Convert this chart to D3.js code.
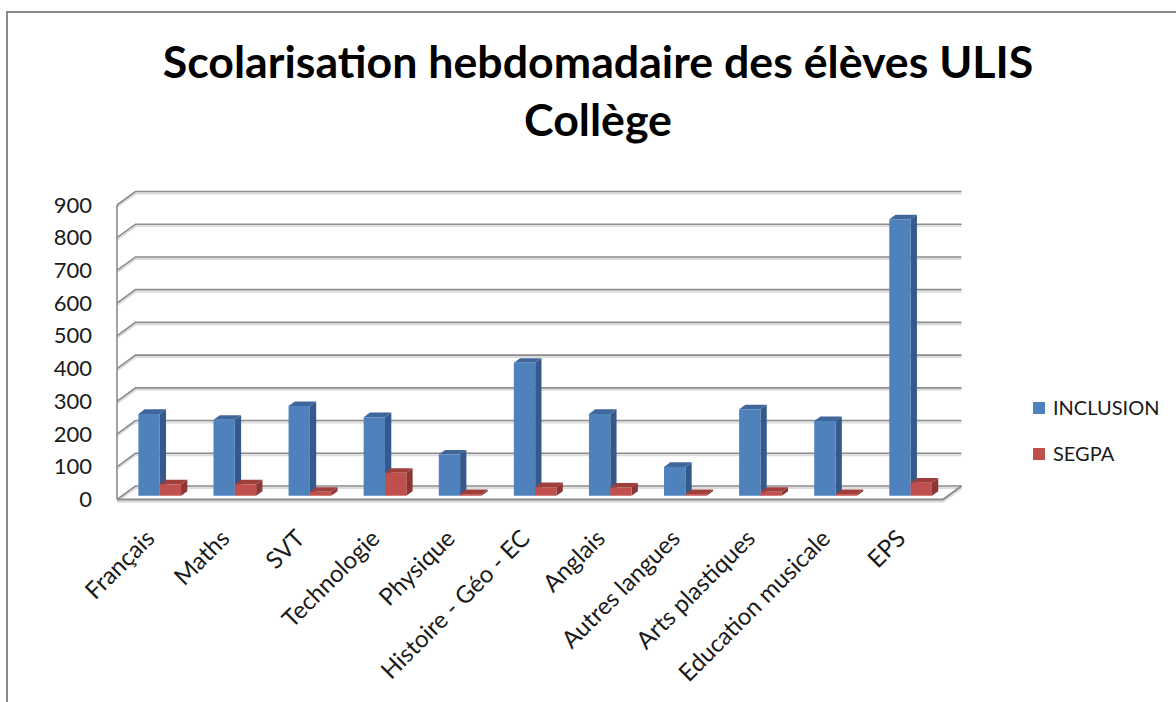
<!DOCTYPE html>
<html>
<head>
<meta charset="utf-8">
<script src="https://cdn.jsdelivr.net/npm/d3@7"></script>
<style>
  body { margin: 0; background: #fff; }
  svg { display: block; }
</style>
</head>
<body>
<div id="chart"></div>
<script>
// data
var categories = ["Français", "Maths", "SVT", "Technologie", "Physique", "Histoire - Géo - EC",
                  "Anglais", "Autres langues", "Arts plastiques", "Education musicale", "EPS"];
var series = ["INCLUSION", "SEGPA"];
var inclusion = [250, 232, 274, 240, 126, 406, 250, 88, 264, 228, 845];
var segpa = [35, 35, 12, 70, 5, 26, 25, 5, 12, 5, 40];
var yTicks = [0, 100, 200, 300, 400, 500, 600, 700, 800, 900];
var title = ["Scolarisation hebdomadaire des élèves ULIS", "Collège"];

var colors = {
    INCLUSION: { front: "#4f81bd", side: "#34598a", top: "#3f679c" },
    SEGPA: { front: "#c0504d", side: "#8c3735", top: "#9f3f3c" }
};

var W = 1176, H = 702;
var svg = d3.select("#chart").append("svg").attr("width", W).attr("height", H);

// outer frame
svg.append("path")
    .attr("d", "M7," + H + "V12H" + W)
    .attr("fill", "none").attr("stroke", "#8a8a8a").attr("stroke-width", 2);

// title
var tg = svg.append("g").attr("font-family", "Lato, sans-serif").attr("font-weight", "bold")
    .attr("text-anchor", "middle").attr("fill", "#000");
var t1 = tg.append("text").attr("x", 598).attr("y", 78).attr("font-size", 42).text(title[0]);
var fs = 42 * 871 / t1.node().getComputedTextLength();
t1.attr("font-size", fs);
tg.append("text").attr("x", 598).attr("y", 136).attr("font-size", fs).text(title[1]);

// 3d projection: front plane + depth offset
var DX = 18.5, DY = 13.5;
var x0 = d3.scaleBand().domain(categories).range([117, 943]).padding(0);
var x1 = d3.scaleBand().domain(series).range([0, x0.bandwidth()]).paddingInner(0).paddingOuter(0.76);
var y = d3.scaleLinear().domain([0, 900]).range([499.5, 205]);
function P(px, v, z) { return [px + z * DX, y(v) - z * DY]; }
function poly(pts) { return "M" + pts.map(function(p) { return p[0] + "," + p[1]; }).join("L") + "Z"; }

var xL = x0.range()[0], xR = x0.range()[1];
var grid = svg.append("g").attr("fill", "none");

// walls and grid lines
yTicks.forEach(function(v) {
    var a = P(xL, v, 0), b = P(xL, v, 1), c = P(xR, v, 1);
    grid.append("path").attr("d", "M" + a + "L" + b + "L" + c)
        .attr("stroke", "#dcdcdc").attr("stroke-width", 2).attr("transform", "translate(0,2)");
    grid.append("path").attr("d", "M" + a + "L" + b + "L" + c)
        .attr("stroke", "#8c8c8c").attr("stroke-width", 1.6);
});
grid.append("line")
    .attr("x1", xL).attr("x2", xL).attr("y1", y(900)).attr("y2", y(0))
    .attr("stroke", "#8c8c8c").attr("stroke-width", 1.6);

// floor
var f = [P(xL, 0, 0), P(xR, 0, 0), P(xR, 0, 1)];
grid.append("path").attr("d", "M" + f[0] + "L" + f[1] + "L" + f[2])
    .attr("stroke", "#dcdcdc").attr("stroke-width", 2.5).attr("transform", "translate(0,2)");
grid.append("path").attr("d", "M" + f[0] + "L" + f[1] + "L" + f[2])
    .attr("stroke", "#8c8c8c").attr("stroke-width", 2);

// bars
var z0 = 0.28, z1 = 0.62;
var rows = [];
categories.forEach(function(c, i) {
    rows.push({ cat: c, s: "INCLUSION", v: inclusion[i] });
    rows.push({ cat: c, s: "SEGPA", v: segpa[i] });
});
var bars = svg.append("g").selectAll("g").data(rows).enter().append("g");
bars.each(function(d) {
    var g = d3.select(this);
    var xa = x0(d.cat) + x1(d.s), xb = xa + x1.bandwidth();
    var col = colors[d.s];
    // side face
    g.append("path").attr("fill", col.side)
        .attr("d", poly([P(xb, 0, z0), P(xb, 0, z1), P(xb, d.v, z1), P(xb, d.v, z0)]));
    // top face
    g.append("path").attr("fill", col.top)
        .attr("d", poly([P(xa, d.v, z0), P(xb, d.v, z0), P(xb, d.v, z1), P(xa, d.v, z1)]));
    // front face
    g.append("path").attr("fill", col.front)
        .attr("d", poly([P(xa, 0, z0), P(xb, 0, z0), P(xb, d.v, z0), P(xa, d.v, z0)]));
});

// y axis labels
var yAxis = svg.append("g")
    .attr("transform", "translate(" + xL + ",0)")
    .call(d3.axisLeft(y).tickValues(yTicks).tickSize(0).tickPadding(25));
yAxis.select(".domain").remove();
yAxis.selectAll("text").attr("font-family", "Lato, sans-serif").attr("font-size", 22).attr("fill", "#1a1a1a");

// x axis labels
var xAxis = svg.append("g")
    .attr("transform", "translate(0,534)")
    .call(d3.axisBottom(x0).tickSize(0).tickPadding(0));
xAxis.select(".domain").remove();
xAxis.selectAll("text")
    .attr("font-family", "Lato, sans-serif").attr("font-size", 24).attr("fill", "#1a1a1a")
    .attr("text-anchor", "end").attr("y", 0).attr("dy", "0.35em")
    .attr("transform", "translate(-4.5,0) rotate(-45)");

// legend
var legend = svg.append("g").selectAll("g").data(series).enter().append("g")
    .attr("transform", function(d, i) { return "translate(1033," + (402 + i * 46) + ")"; });
legend.append("rect").attr("width", 12).attr("height", 12)
    .attr("fill", function(d) { return colors[d].front; });
legend.append("text").attr("x", 20).attr("y", 13)
    .attr("font-family", "Lato, sans-serif").attr("font-size", 20).attr("fill", "#1a1a1a")
    .text(function(d) { return d; });
</script>
</body>
</html>
